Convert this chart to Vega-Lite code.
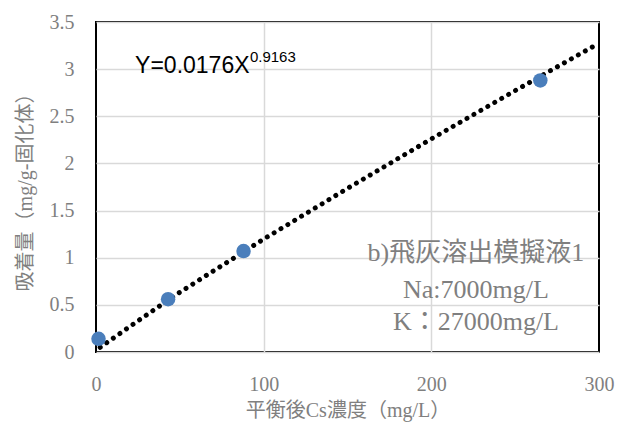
{
  "$schema": "https://vega.github.io/schema/vega-lite/v6.json",
  "autosize": {"type": "none"},
  "padding": {"left": 96, "top": 22, "right": 19, "bottom": 78},
  "width": 503,
  "height": 330,
  "background": "white",
  "config": {
    "view": {"stroke": "black", "strokeWidth": 2},
    "axis": {
      "labelFont": "Liberation Serif",
      "labelFontSize": 20,
      "labelColor": "#7f7f7f",
      "labelFlush": false,
      "titleFont": "Liberation Serif, Noto Sans CJK JP",
      "titleFontSize": 20,
      "titleFontWeight": "normal",
      "titleColor": "#808080",
      "gridColor": "#d9d9d9",
      "gridWidth": 1.5,
      "ticks": false,
      "domain": false
    }
  },
  "datasets": {
    "points": [
      {"x": 1.5, "y": 0.14},
      {"x": 43, "y": 0.56},
      {"x": 88, "y": 1.07},
      {"x": 265, "y": 2.88}
    ],
    "trend": [
      {"x": 2.5, "y": 0.05},
      {"x": 25, "y": 0.33},
      {"x": 50, "y": 0.634},
      {"x": 100, "y": 1.197},
      {"x": 150, "y": 1.735},
      {"x": 200, "y": 2.26},
      {"x": 250, "y": 2.772},
      {"x": 299, "y": 3.265}
    ],
    "notes": [
      {"x": 226.6, "y": 1.05, "t": "b)飛灰溶出模擬液1"},
      {"x": 226.6, "y": 0.66, "t": "Na:7000mg/L"},
      {"x": 226.6, "y": 0.32, "t": "K：27000mg/L"}
    ],
    "eq": [{"x": 23.3, "y": 2.96, "t": "Y=0.0176X"}],
    "sup": [{"x": 91.8, "y": 3.08, "t": "0.9163"}]
  },
  "layer": [
    {
      "data": {"name": "trend"},
      "mark": {"type": "line", "color": "black", "strokeWidth": 5, "strokeCap": "round", "strokeDash": [0.01, 8]},
      "encoding": {
        "x": {"field": "x", "type": "quantitative", "scale": {"domain": [0, 300], "nice": false},
          "axis": {"values": [0, 100, 200, 300], "title": "平衡後Cs濃度（mg/L）", "labelPadding": 22, "titlePadding": 6, "gridColor": {"condition": {"test": "datum.value == 300 || datum.value == 0", "value": "transparent"}, "value": "#d9d9d9"}}},
        "y": {"field": "y", "type": "quantitative", "scale": {"domain": [0, 3.5], "nice": false},
          "axis": {"values": [0, 0.5, 1, 1.5, 2, 2.5, 3, 3.5], "format": "~g", "title": "吸着量（mg/g-固化体）", "labelPadding": 22, "titlePadding": 14}}
      }
    },
    {
      "data": {"name": "points"},
      "mark": {"type": "point", "filled": true, "color": "#4a7ebb", "opacity": 1, "size": 210},
      "encoding": {
        "x": {"field": "x", "type": "quantitative"},
        "y": {"field": "y", "type": "quantitative"}
      }
    },
    {
      "data": {"name": "notes"},
      "mark": {"type": "text", "font": "Liberation Serif, Noto Sans CJK JP", "fontSize": 26, "color": "#7f7f7f", "align": "center", "baseline": "middle"},
      "encoding": {
        "x": {"field": "x", "type": "quantitative"},
        "y": {"field": "y", "type": "quantitative"},
        "text": {"field": "t"}
      }
    },
    {
      "data": {"name": "eq"},
      "mark": {"type": "text", "font": "Liberation Sans", "fontSize": 23, "color": "black", "align": "left", "baseline": "alphabetic"},
      "encoding": {
        "x": {"field": "x", "type": "quantitative"},
        "y": {"field": "y", "type": "quantitative"},
        "text": {"field": "t"}
      }
    },
    {
      "data": {"name": "sup"},
      "mark": {"type": "text", "font": "Liberation Sans", "fontSize": 15, "color": "black", "align": "left", "baseline": "alphabetic"},
      "encoding": {
        "x": {"field": "x", "type": "quantitative"},
        "y": {"field": "y", "type": "quantitative"},
        "text": {"field": "t"}
      }
    }
  ]
}
